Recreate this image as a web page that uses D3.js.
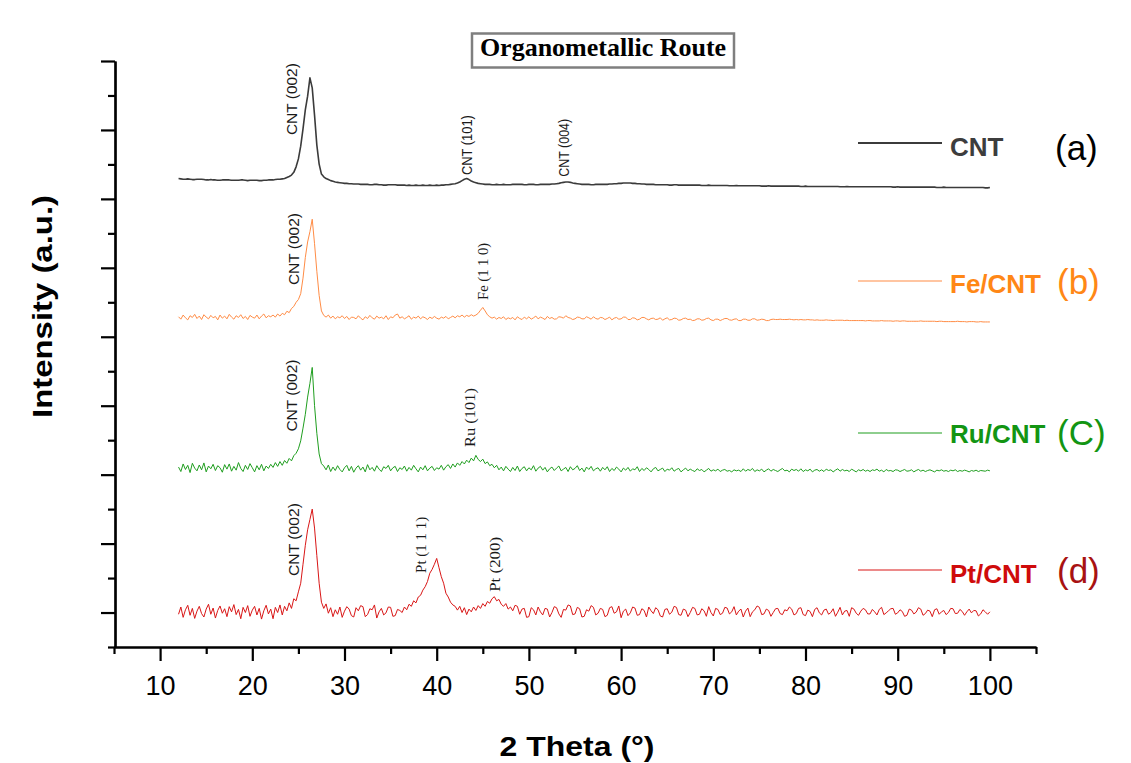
<!DOCTYPE html>
<html>
<head>
<meta charset="utf-8">
<script src="https://cdn.jsdelivr.net/npm/d3@7"></script>
<style>
  html, body { margin: 0; padding: 0; background: #ffffff; }
  svg { display: block; }
</style>
</head>
<body>
<svg id="chart" width="1131" height="763"></svg>
<script>
// Diffraction angle grid (2θ, degrees, 0.25° steps), shared by all four patterns
const twoTheta = [
  12,12.25,12.5,12.75,13,13.25,13.5,13.75,
  14,14.25,14.5,14.75,15,15.25,15.5,15.75,
  16,16.25,16.5,16.75,17,17.25,17.5,17.75,
  18,18.25,18.5,18.75,19,19.25,19.5,19.75,
  20,20.25,20.5,20.75,21,21.25,21.5,21.75,
  22,22.25,22.5,22.75,23,23.25,23.5,23.75,
  24,24.25,24.5,24.75,25,25.25,25.5,25.75,
  26,26.25,26.5,26.75,27,27.25,27.5,27.75,
  28,28.25,28.5,28.75,29,29.25,29.5,29.75,
  30,30.25,30.5,30.75,31,31.25,31.5,31.75,
  32,32.25,32.5,32.75,33,33.25,33.5,33.75,
  34,34.25,34.5,34.75,35,35.25,35.5,35.75,
  36,36.25,36.5,36.75,37,37.25,37.5,37.75,
  38,38.25,38.5,38.75,39,39.25,39.5,39.75,
  40,40.25,40.5,40.75,41,41.25,41.5,41.75,
  42,42.25,42.5,42.75,43,43.25,43.5,43.75,
  44,44.25,44.5,44.75,45,45.25,45.5,45.75,
  46,46.25,46.5,46.75,47,47.25,47.5,47.75,
  48,48.25,48.5,48.75,49,49.25,49.5,49.75,
  50,50.25,50.5,50.75,51,51.25,51.5,51.75,
  52,52.25,52.5,52.75,53,53.25,53.5,53.75,
  54,54.25,54.5,54.75,55,55.25,55.5,55.75,
  56,56.25,56.5,56.75,57,57.25,57.5,57.75,
  58,58.25,58.5,58.75,59,59.25,59.5,59.75,
  60,60.25,60.5,60.75,61,61.25,61.5,61.75,
  62,62.25,62.5,62.75,63,63.25,63.5,63.75,
  64,64.25,64.5,64.75,65,65.25,65.5,65.75,
  66,66.25,66.5,66.75,67,67.25,67.5,67.75,
  68,68.25,68.5,68.75,69,69.25,69.5,69.75,
  70,70.25,70.5,70.75,71,71.25,71.5,71.75,
  72,72.25,72.5,72.75,73,73.25,73.5,73.75,
  74,74.25,74.5,74.75,75,75.25,75.5,75.75,
  76,76.25,76.5,76.75,77,77.25,77.5,77.75,
  78,78.25,78.5,78.75,79,79.25,79.5,79.75,
  80,80.25,80.5,80.75,81,81.25,81.5,81.75,
  82,82.25,82.5,82.75,83,83.25,83.5,83.75,
  84,84.25,84.5,84.75,85,85.25,85.5,85.75,
  86,86.25,86.5,86.75,87,87.25,87.5,87.75,
  88,88.25,88.5,88.75,89,89.25,89.5,89.75,
  90,90.25,90.5,90.75,91,91.25,91.5,91.75,
  92,92.25,92.5,92.75,93,93.25,93.5,93.75,
  94,94.25,94.5,94.75,95,95.25,95.5,95.75,
  96,96.25,96.5,96.75,97,97.25,97.5,97.75,
  98,98.25,98.5,98.75,99,99.25,99.5,99.75,
  100
];

// Intensities (a.u.) of each pattern above its own stacking offset
const cntValues = [
  39,38,37,37,38,37,36,36,
  37,37,37,36,35,35,36,35,
  35,34,34,35,35,35,35,34,
  34,34,34,35,35,34,33,34,
  34,34,34,33,33,34,34,35,
  35,35,36,37,37,38,39,42,
  45,49,57,73,96,133,183,238,
  278,331,302,223,136,81,52,44,
  39,36,33,31,29,28,27,26,
  25,25,24,24,23,23,23,22,
  22,22,22,21,21,22,22,21,
  21,20,20,21,21,21,21,20,
  20,20,20,19,20,19,19,20,
  19,19,20,19,19,20,19,19,
  20,19,20,20,21,21,22,23,
  24,26,29,33,37,39,36,32,
  29,27,25,24,23,22,22,22,
  21,21,22,21,21,22,21,21,
  21,22,22,22,22,22,21,21,
  22,22,22,21,21,22,22,22,
  22,22,23,23,24,25,27,28,
  29,29,28,26,25,24,23,22,
  22,22,22,21,21,22,22,22,
  22,22,22,23,23,24,24,25,
  25,26,26,26,26,25,25,24,
  24,23,23,22,22,22,22,21,
  21,21,21,21,21,20,20,21,
  21,20,20,20,20,20,20,20,
  20,20,20,19,19,19,20,19,
  19,19,19,19,19,19,19,18,
  18,18,19,18,18,18,18,18,
  18,18,18,18,18,17,17,17,
  18,17,17,17,17,17,17,17,
  17,17,17,17,17,17,16,16,
  17,16,16,16,16,16,16,16,
  16,16,16,16,16,16,16,15,
  15,15,16,15,15,15,15,15,
  15,15,15,15,15,15,15,15,
  15,15,15,15,15,15,14,14,
  15,14,14,14,14,14,14,14,
  14,14,14,14,14,14,14,14,
  14,13,13,13,14,13,13,13,
  13,13,13,13,13,13,13,13,
  13,13,13,13,13,13,12,12,
  13
];

const feValues = [
  28,21,33,25,19,31,26,35,
  23,30,20,34,27,22,32,25,
  29,19,33,24,30,22,35,27,
  21,31,26,34,23,29,20,32,
  27,24,33,22,30,36,25,31,
  28,33,27,36,30,38,34,44,
  40,52,58,70,78,95,140,200,
  245,275,311,240,160,90,45,32,
  27,33,24,30,22,28,25,31,
  23,29,20,27,26,22,31,24,
  19,28,23,32,25,21,30,24,
  27,22,31,20,28,25,33,36,
  24,28,22,26,31,21,27,24,
  30,22,28,25,20,27,23,29,
  24,21,27,24,29,22,26,30,
  25,31,28,33,27,32,29,34,
  30,33,38,47,55,45,34,28,
  24,27,21,26,23,28,20,25,
  22,26,19,28,23,20,27,22,
  28,21,25,30,22,27,24,20,
  29,23,26,21,22,28,27,24,
  31,26,24,20,22,27,26,22,
  22,28,25,21,28,23,21,26,
  25,20,23,27,19,24,26,21,
  22,27,27,20,20,25,24,19,
  21,26,26,22,19,23,24,20,
  21,25,18,22,25,19,20,24,
  23,18,19,23,24,20,21,17,
  18,22,22,18,19,23,24,19,
  17,21,21,17,20,23,23,19,
  18,21,22,17,17,21,21,18,
  18,22,22,18,19,21,20,17,
  17,20,21,20,20,21,20,20,
  20,21,20,19,20,19,20,19,
  19,20,19,19,18,19,18,18,
  18,19,18,18,17,18,18,18,
  18,17,18,17,17,17,17,17,
  17,17,16,17,17,16,16,16,
  16,17,16,16,16,16,15,16,
  16,15,16,16,15,15,15,15,
  15,15,16,15,15,15,15,15,
  15,14,15,15,14,14,14,14,
  14,14,15,14,14,14,13,14,
  14,14,13,13,14,13,13,13,
  13
];

const ruValues = [
  22,9,31,15,27,6,33,19,
  11,28,14,34,8,25,17,30,
  12,26,20,7,29,16,31,10,
  24,13,35,18,9,27,15,32,
  20,8,26,14,30,11,25,18,
  30,21,35,24,38,27,41,33,
  47,40,55,62,75,98,135,175,
  225,265,311,200,120,60,32,25,
  14,28,9,22,12,26,15,8,
  20,27,11,24,7,19,26,13,
  22,8,29,14,21,10,26,16,
  9,23,18,27,11,20,24,9,
  20,15,25,10,21,13,27,17,
  8,22,14,26,11,19,24,12,
  20,16,27,13,23,29,18,31,
  22,34,27,38,31,42,35,48,
  40,56,44,38,45,32,37,26,
  30,20,27,14,22,11,24,16,
  9,21,12,25,9,18,23,11,
  20,14,26,10,19,24,13,21,
  8,17,22,12,19,25,11,16,
  21,9,23,14,18,26,12,19,
  8,22,15,24,11,17,20,10,
  21,14,23,9,18,12,22,16,
  8,19,13,21,10,17,14,23,
  9,18,12,20,15,8,17,21,
  11,15,19,9,16,13,20,10,
  15,18,8,14,19,11,16,12,
  9,17,12,15,8,13,18,10,
  14,11,16,9,13,15,10,12,
  8,14,11,13,9,17,10,15,
  12,18,9,14,11,16,8,13,
  17,10,15,12,9,14,18,11,
  13,8,16,12,15,10,17,9,
  14,11,16,8,13,15,10,14,
  9,16,12,14,8,13,17,10,
  15,11,13,9,16,12,8,14,
  11,15,10,13,9,14,12,16,
  10,13,8,15,11,12,9,14,
  13,9,12,15,10,11,14,8,
  12,15,10,13,9,12,14,11,
  8,13,11,14,10,12,9,13,
  11,14,9,12,10,13,11,8,
  12,10,13,9,12,11,10,13,
  11
];

const ptValues = [
  5,26,-4,18,31,2,22,-7,
  14,28,7,-3,20,34,5,23,
  -6,16,29,8,21,-2,27,12,
  33,4,19,-8,25,10,30,-1,
  17,28,3,22,-9,15,31,6,
  20,-8,25,10,32,3,28,15,
  38,22,50,44,70,95,150,205,
  250,280,310,255,175,95,40,22,
  35,8,24,-2,18,5,26,-4,
  14,27,20,1,-3,24,15,30,
  27,-2,4,21,18,32,-6,12,
  22,3,9,26,25,-1,1,19,
  16,10,26,18,34,28,44,38,
  55,60,75,85,100,124,135,150,
  167,140,114,95,66,55,40,32,
  28,17,28,10,24,4,20,12,
  26,16,30,22,36,28,42,37,
  50,56,44,48,34,28,36,20,
  26,15,31,28,5,20,22,-4,
  -2,24,18,3,26,12,3,22,
  20,-3,10,27,24,6,-4,19,
  17,32,29,4,6,25,21,-3,
  -1,18,14,30,25,3,8,22,
  19,-2,2,24,27,8,12,29,
  -5,14,20,1,9,26,23,2,
  4,21,16,-3,26,15,7,24,
  18,0,-3,19,21,5,11,28,
  25,4,2,20,17,-2,10,25,
  22,3,5,21,15,-1,27,10,
  0,22,19,4,8,25,23,6,
  12,27,3,14,20,-3,14,23,
  -2,12,18,29,25,4,6,20,
  16,-1,10,21,22,7,4,18,
  15,26,20,3,7,22,24,4,
  1,17,13,-2,19,24,9,3,
  17,20,5,10,21,-1,11,25,
  3,14,16,-1,24,20,8,2,
  14,22,18,6,6,19,12,3,
  19,25,4,9,15,21,22,5,
  9,18,13,-1,2,20,17,6,
  11,24,20,2,7,17,14,-2,
  18,21,5,12,16,4,10,22,
  21,7,8,19,13,2,12,20,
  9,16,15,0,6,18,12,5,
  12
];

// Stacking offsets (a.u.) and sample names, top pattern first
const sampleNames = ["CNT", "Fe/CNT", "Ru/CNT", "Pt/CNT"];
const panelTags = ["(a)", "(b)", "(C)", "(d)"];
const stackOffsets = [1320, 930, 500, 90];

// Reflection labels: pattern index, 2θ position, label start level (a.u. above offset)
const reflectionSeries = [0, 0, 0, 1, 1, 2, 2, 3, 3, 3];
const reflectionAngles = [24.3, 43.3, 53.8, 24.55, 45.05, 24.34, 43.7, 24.55, 38.37, 46.43];
const reflectionLevels = [165, 49, 44, 120, 77, 125, 80, 116, 125, 70];
const reflectionTexts = ["CNT (002)", "CNT (101)", "CNT (004)", "CNT (002)", "Fe (1 1 0)",
                         "CNT (002)", "Ru (101)", "CNT (002)", "Pt (1 1 1)", "Pt (200)"];

// Axis ticks
const xMajorTicks = [10, 20, 30, 40, 50, 60, 70, 80, 90, 100];
const xMinorTicks = [5, 15, 25, 35, 45, 55, 65, 75, 85, 95, 105];
const yMajorTicks = [100, 300, 500, 700, 900, 1100, 1300, 1500, 1700];
const yMinorTicks = [0, 200, 400, 600, 800, 1000, 1200, 1400, 1600];

// ---- drawing ----
const svg = d3.select("#chart");
const sans = "Arial, 'Liberation Sans', Helvetica, sans-serif";
const serif = "'Times New Roman', 'Liberation Serif', serif";

const lineColors = ["#3b3b3b", "#ff8c45", "#1f9e1f", "#d91616"];
const textColors = ["#3d3d3d", "#ff8716", "#139513", "#cf0b0b"];
const tagColors  = ["#000000", "#ff8716", "#139513", "#a81212"];
const lineWidths = [1.6, 1.0, 1.0, 1.0];

const x = d3.scaleLinear().domain([5, 105]).range([114, 1036]);
const y = d3.scaleLinear().domain([0, 1700]).range([647, 61]);

const seriesValues = [cntValues, feValues, ruValues, ptValues];
seriesValues.forEach((vals, i) => {
  if (vals.length !== twoTheta.length) console.error(sampleNames[i] + " length " + vals.length + " vs " + twoTheta.length);
});

// Patterns
const line = d3.line().x(d => x(d[0])).y(d => y(d[1]));
seriesValues.forEach((vals, i) => {
  const pts = twoTheta.map((t, k) => [t, vals[k] + stackOffsets[i]]);
  svg.append("path")
    .attr("d", line(pts))
    .attr("fill", "none")
    .attr("stroke", lineColors[i])
    .attr("stroke-width", lineWidths[i])
    .attr("stroke-linejoin", "round");
});

// Axes
function styleAxis(g) {
  g.selectAll("path.domain").attr("stroke", "#000").attr("stroke-width", 2.2);
  g.selectAll(".tick line").attr("stroke", "#000").attr("stroke-width", 2.2);
}
const xMinor = svg.append("g").attr("transform", "translate(0,647)")
  .call(d3.axisBottom(x).tickValues(xMinorTicks).tickSize(7).tickSizeOuter(0).tickFormat(""));
styleAxis(xMinor);
const xMajor = svg.append("g").attr("transform", "translate(0,647)")
  .call(d3.axisBottom(x).tickValues(xMajorTicks).tickSize(14).tickSizeOuter(0).tickPadding(15));
styleAxis(xMajor);
xMajor.selectAll("text").attr("font-family", sans).attr("font-size", 27).attr("fill", "#000");

const yMinor = svg.append("g").attr("transform", "translate(115,0)")
  .call(d3.axisLeft(y).tickValues(yMinorTicks).tickSize(7).tickSizeOuter(0).tickFormat(""));
styleAxis(yMinor);
const yMajor = svg.append("g").attr("transform", "translate(115,0)")
  .call(d3.axisLeft(y).tickValues(yMajorTicks).tickSize(14).tickSizeOuter(0).tickFormat(""));
styleAxis(yMajor);

// Axis titles
svg.append("text")
  .attr("transform", "translate(42,306.5) rotate(-90)")
  .attr("text-anchor", "middle")
  .attr("dominant-baseline", "central")
  .attr("font-family", sans).attr("font-weight", "bold").attr("font-size", 28)
  .attr("textLength", 223).attr("lengthAdjust", "spacingAndGlyphs")
  .text("Intensity (a.u.)");

svg.append("text")
  .attr("x", 577).attr("y", 756)
  .attr("text-anchor", "middle")
  .attr("font-family", sans).attr("font-weight", "bold").attr("font-size", 27)
  .attr("textLength", 155).attr("lengthAdjust", "spacingAndGlyphs")
  .text("2 Theta (°)");

// Title box
svg.append("rect")
  .attr("x", 472).attr("y", 33.5).attr("width", 262).attr("height", 34)
  .attr("fill", "#fff").attr("stroke", "#7f7f7f").attr("stroke-width", 2.5);
svg.append("text")
  .attr("x", 603).attr("y", 56)
  .attr("text-anchor", "middle")
  .attr("font-family", serif).attr("font-weight", "bold").attr("font-size", 26)
  .text("Organometallic Route");

// Reflection labels (vertical)
const labelLengths = [72, 60, 58, 72, 57, 72, 59, 73, 56, 55];
reflectionTexts.forEach((txt, i) => {
  const s = reflectionSeries[i];
  const px = x(reflectionAngles[i]);
  const py = y(reflectionLevels[i] + stackOffsets[s]);
  const isCnt = txt.startsWith("CNT");
  svg.append("text")
    .attr("transform", `translate(${px},${py}) rotate(-90)`)
    .attr("dominant-baseline", "central")
    .attr("text-anchor", "start")
    .attr("font-family", isCnt ? sans : serif)
    .attr("font-size", 14)
    .attr("textLength", labelLengths[i])
    .attr("lengthAdjust", "spacingAndGlyphs")
    .attr("fill", "#1a1a1a")
    .text(txt);
});

// Legend
const legendLineY = [143, 281, 433, 570];
const legendTextY = [156, 293, 443, 583];
const legendTagY  = [160, 294, 445, 583];
sampleNames.forEach((name, i) => {
  svg.append("line")
    .attr("x1", 858).attr("x2", 942)
    .attr("y1", legendLineY[i]).attr("y2", legendLineY[i])
    .attr("stroke", lineColors[i]).attr("stroke-width", lineWidths[i] + 0.2);
  svg.append("text")
    .attr("x", 950).attr("y", legendTextY[i])
    .attr("font-family", sans).attr("font-weight", "bold").attr("font-size", 26)
    .attr("fill", textColors[i])
    .text(name);
  svg.append("text")
    .attr("x", i === 0 ? 1055 : 1057).attr("y", legendTagY[i])
    .attr("font-family", sans).attr("font-size", 35)
    .attr("fill", tagColors[i])
    .text(panelTags[i]);
});
</script>
</body>
</html>
